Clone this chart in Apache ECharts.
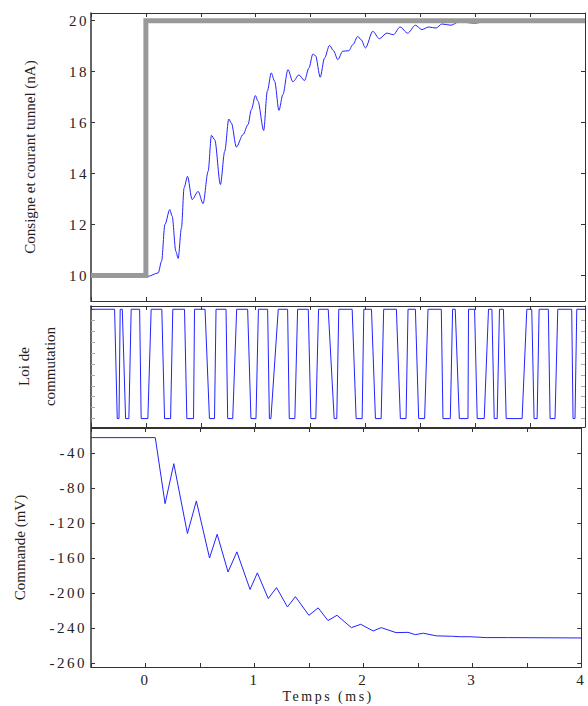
<!DOCTYPE html>
<html>
<head>
<meta charset="utf-8">
<script src="https://cdn.jsdelivr.net/npm/echarts@6.0.0/dist/echarts.min.js"></script>
<style>
  html, body { margin: 0; padding: 0; background: #fff; }
  #chart { width: 588px; height: 706px; }
  #chart text[style*="Spaced"] { letter-spacing: 2.5px; }
</style>
</head>
<body>
<div id="chart"></div>
<script>
// consigne (nA) : [t ms, value]
var consigne = [[-0.5, 10], [0, 10], [0, 20], [4, 20]]

// courant tunnel (nA) : [t ms, value]
var courant = [
  [-0.5, 10], [-0.32, 10], [-0.3, 10.05], [-0.27, 10], [0.02, 9.97], [0.112, 10.1],
  [0.143, 10.56], [0.173, 12.0], [0.218, 12.59], [0.239, 12.33], [0.273, 10.95], [0.294, 10.67],
  [0.324, 11.87], [0.348, 13.44], [0.379, 13.89], [0.421, 12.98], [0.476, 13.3], [0.521, 12.82],
  [0.567, 14.09], [0.597, 15.5], [0.627, 15.33], [0.679, 13.57], [0.718, 14.87], [0.755, 16.14],
  [0.779, 15.98], [0.824, 15.04], [0.885, 15.53], [0.93, 15.92], [0.961, 16.51], [0.997, 17.06],
  [1.021, 16.84], [1.073, 15.69], [1.106, 17.23], [1.142, 17.95], [1.173, 17.62], [1.212, 16.48],
  [1.248, 17.1], [1.294, 18.08], [1.339, 17.6], [1.394, 17.87], [1.445, 17.65], [1.485, 18.14],
  [1.521, 18.69], [1.545, 18.63], [1.588, 17.78], [1.627, 18.53], [1.673, 19.03], [1.709, 18.82],
  [1.748, 18.47], [1.794, 18.8], [1.848, 18.82], [1.885, 19.06], [1.93, 19.38], [1.961, 19.25],
  [2.0, 18.93], [2.067, 19.58], [2.127, 19.29], [2.194, 19.51], [2.255, 19.45], [2.315, 19.75],
  [2.385, 19.51], [2.455, 19.82], [2.515, 19.65], [2.576, 19.75], [2.643, 19.71], [2.697, 19.87],
  [2.779, 19.82], [2.85, 19.95], [3.0, 19.9], [3.15, 20.04], [3.36, 20.04], [3.45, 19.95],
  [3.55, 20.04], [3.85, 20.04], [4.0, 20.0]
]

// loi de commutation : one row per pulse [fin haut, debut bas, fin bas, debut haut] (ms)
var impulsions = [
  [-0.285, -0.261, -0.245, -0.234], [-0.215, -0.185, -0.155, -0.134], [-0.057, -0.043, 0.018, 0.048],
  [0.145, 0.170, 0.225, 0.245], [0.352, 0.373, 0.434, 0.443], [0.539, 0.579, 0.625, 0.639],
  [0.730, 0.745, 0.791, 0.827], [0.927, 0.957, 1.003, 1.025], [1.109, 1.125, 1.139, 1.206],
  [1.291, 1.306, 1.357, 1.382], [1.479, 1.503, 1.548, 1.573], [1.661, 1.715, 1.739, 1.757],
  [1.879, 1.915, 1.970, 1.985], [2.055, 2.091, 2.143, 2.166], [2.282, 2.318, 2.370, 2.388],
  [2.455, 2.485, 2.539, 2.570], [2.691, 2.706, 2.773, 2.794], [2.818, 2.855, 2.934, 2.939],
  [2.994, 3.018, 3.082, 3.121], [3.152, 3.173, 3.200, 3.221], [3.257, 3.282, 3.427, 3.470],
  [3.515, 3.536, 3.564, 3.582], [3.666, 3.682, 3.727, 3.752], [3.879, 3.891, 3.909, 3.925]
]

// commande (mV) : [t ms, value]
var commande = [
  [-0.5, -22.4], [0.09, -22.4], [0.18, -97.9], [0.26, -52.2], [0.385, -132], [0.467, -94.8],
  [0.588, -160], [0.658, -132.9], [0.758, -176], [0.839, -153], [0.96, -196], [1.027, -177],
  [1.127, -206.4], [1.203, -193.8], [1.303, -216], [1.376, -204.2], [1.5, -225.5], [1.585, -217],
  [1.675, -231.5], [1.758, -225.5], [1.89, -239.6], [1.976, -235.8], [2.09, -243.4], [2.164, -239.6],
  [2.3, -245.3], [2.41, -245], [2.476, -247.6], [2.55, -246], [2.67, -249], [2.82, -249.5],
  [2.885, -250], [2.98, -250], [3.127, -251], [3.33, -251], [4.0, -251.4]
]

// tick labels
var xLabels = [0, 1, 2, 3, 4]
var yLabelsCourant = [10, 12, 14, 16, 18, 20]
var yTicksLoi = [0, 0.1, 0.2, 0.3, 0.4, 0.5, 0.6, 0.7, 0.8, 0.9, 1]
var yLabelsCommande = [-280, -240, -200, -160, -120, -80, -40]
var yLabelTextCommande = { '-280': '-260' }

var chart = echarts.init(document.getElementById('chart'), null, { renderer: 'svg' })

var tickFont = '"Liberation Serif", Spaced'
var nameFont = '"Liberation Serif"'
var lineColor = '#333'
var blue = '#2222ff'

// build the switching signal from the pulse table
var loi = [[-0.5, 1]]
impulsions.forEach(function (p) {
  loi.push([p[0], 1], [p[1], 0], [p[2], 0], [p[3], 1])
})
loi.push([4, 1])

function xAxes(gi, withLabels) {
  var base = {
    type: 'value',
    gridIndex: gi,
    min: -0.5,
    max: 4,
    interval: 0.5,
    axisLine: { show: true, onZero: false, lineStyle: { color: lineColor } },
    axisTick: { show: true, inside: true, length: 4, lineStyle: { color: lineColor } },
    splitLine: { show: false },
    axisLabel: { show: false }
  }
  var bottom = Object.assign({}, base, { position: 'bottom' })
  if (withLabels) {
    bottom.axisLabel = {
      show: true,
      customValues: xLabels,
      fontFamily: tickFont,
      fontSize: 15,
      color: '#222',
      margin: 5
    }
    bottom.name = 'Temps (ms)'
    bottom.nameLocation = 'middle'
    bottom.nameGap = 22
    bottom.nameTextStyle = { fontFamily: tickFont, fontSize: 14, color: '#222', padding: [0, 16, 0, 0] }
  }
  var top = Object.assign({}, base, { position: 'top' })
  return [bottom, top]
}

function yAxes(gi, min, max, ticks, tickColor, labels) {
  var left = {
    type: 'value',
    gridIndex: gi,
    position: 'left',
    min: min,
    max: max,
    axisLine: { show: true, onZero: false, lineStyle: { color: lineColor, width: 1.5 } },
    axisTick: { show: true, inside: true, length: 4, customValues: ticks, lineStyle: { color: tickColor } },
    splitLine: { show: false },
    axisLabel: { show: false }
  }
  if (labels) {
    left.axisLabel = Object.assign({
      show: true,
      customValues: ticks,
      fontFamily: tickFont,
      fontSize: 15,
      color: '#222'
    }, labels)
  }
  var right = {
    type: 'value',
    gridIndex: gi,
    position: 'right',
    min: min,
    max: max,
    axisLine: { show: true, onZero: false, lineStyle: { color: lineColor } },
    axisTick: { show: true, inside: true, length: 4, customValues: ticks, lineStyle: { color: tickColor } },
    splitLine: { show: false },
    axisLabel: { show: false }
  }
  return [left, right]
}

var y0 = yAxes(0, 9, 20.3, yLabelsCourant, lineColor, { margin: 2 })
y0[0].name = 'Consigne et courant tunnel (nA)'
y0[0].nameLocation = 'middle'
y0[0].nameGap = 54
y0[0].nameTextStyle = { fontFamily: nameFont, fontSize: 15, color: '#222' }

var y1 = yAxes(1, -0.077, 1.03, yTicksLoi, '#aaa', null)
y1[0].name = 'Loi de\ncommutation'
y1[0].nameLocation = 'middle'
y1[0].nameGap = 28
y1[0].nameTextStyle = { fontFamily: nameFont, fontSize: 15, color: '#222', lineHeight: 26 }

var y2 = yAxes(2, -284.6, -11.4, yLabelsCommande, lineColor, {
  margin: 4,
  formatter: function (v) {
    return yLabelTextCommande[String(v)] || String(v)
  }
})
y2[0].name = 'Commande (mV)'
y2[0].nameLocation = 'middle'
y2[0].nameGap = 64
y2[0].nameTextStyle = { fontFamily: nameFont, fontSize: 15, color: '#222' }

var option = {
  animation: false,
  backgroundColor: '#fff',
  grid: [
    { left: 91, top: 13, width: 494, height: 288 },
    { left: 91, top: 306, width: 494, height: 121 },
    { left: 91, top: 428, width: 494, height: 239 }
  ],
  xAxis: [].concat(xAxes(0, false), xAxes(1, false), xAxes(2, true)),
  yAxis: [].concat(y0, y1, y2),
  series: [
    {
      name: 'Courant tunnel',
      type: 'line',
      xAxisIndex: 0,
      yAxisIndex: 0,
      data: courant,
      showSymbol: false,
      smooth: 0.3,
      smoothMonotone: 'x',
      lineStyle: { color: blue, width: 1 },
      z: 2
    },
    {
      name: 'Consigne',
      type: 'line',
      xAxisIndex: 0,
      yAxisIndex: 0,
      data: consigne,
      showSymbol: false,
      lineStyle: { color: '#999', width: 5, cap: 'butt', join: 'miter' },
      z: 3
    },
    {
      name: 'Loi de commutation',
      type: 'line',
      xAxisIndex: 2,
      yAxisIndex: 2,
      data: loi,
      showSymbol: false,
      lineStyle: { color: blue, width: 1 },
      z: 2
    },
    {
      name: 'Commande',
      type: 'line',
      xAxisIndex: 4,
      yAxisIndex: 4,
      data: commande,
      showSymbol: false,
      lineStyle: { color: blue, width: 1 },
      z: 2
    }
  ]
}

chart.setOption(option)
</script>
</body>
</html>
